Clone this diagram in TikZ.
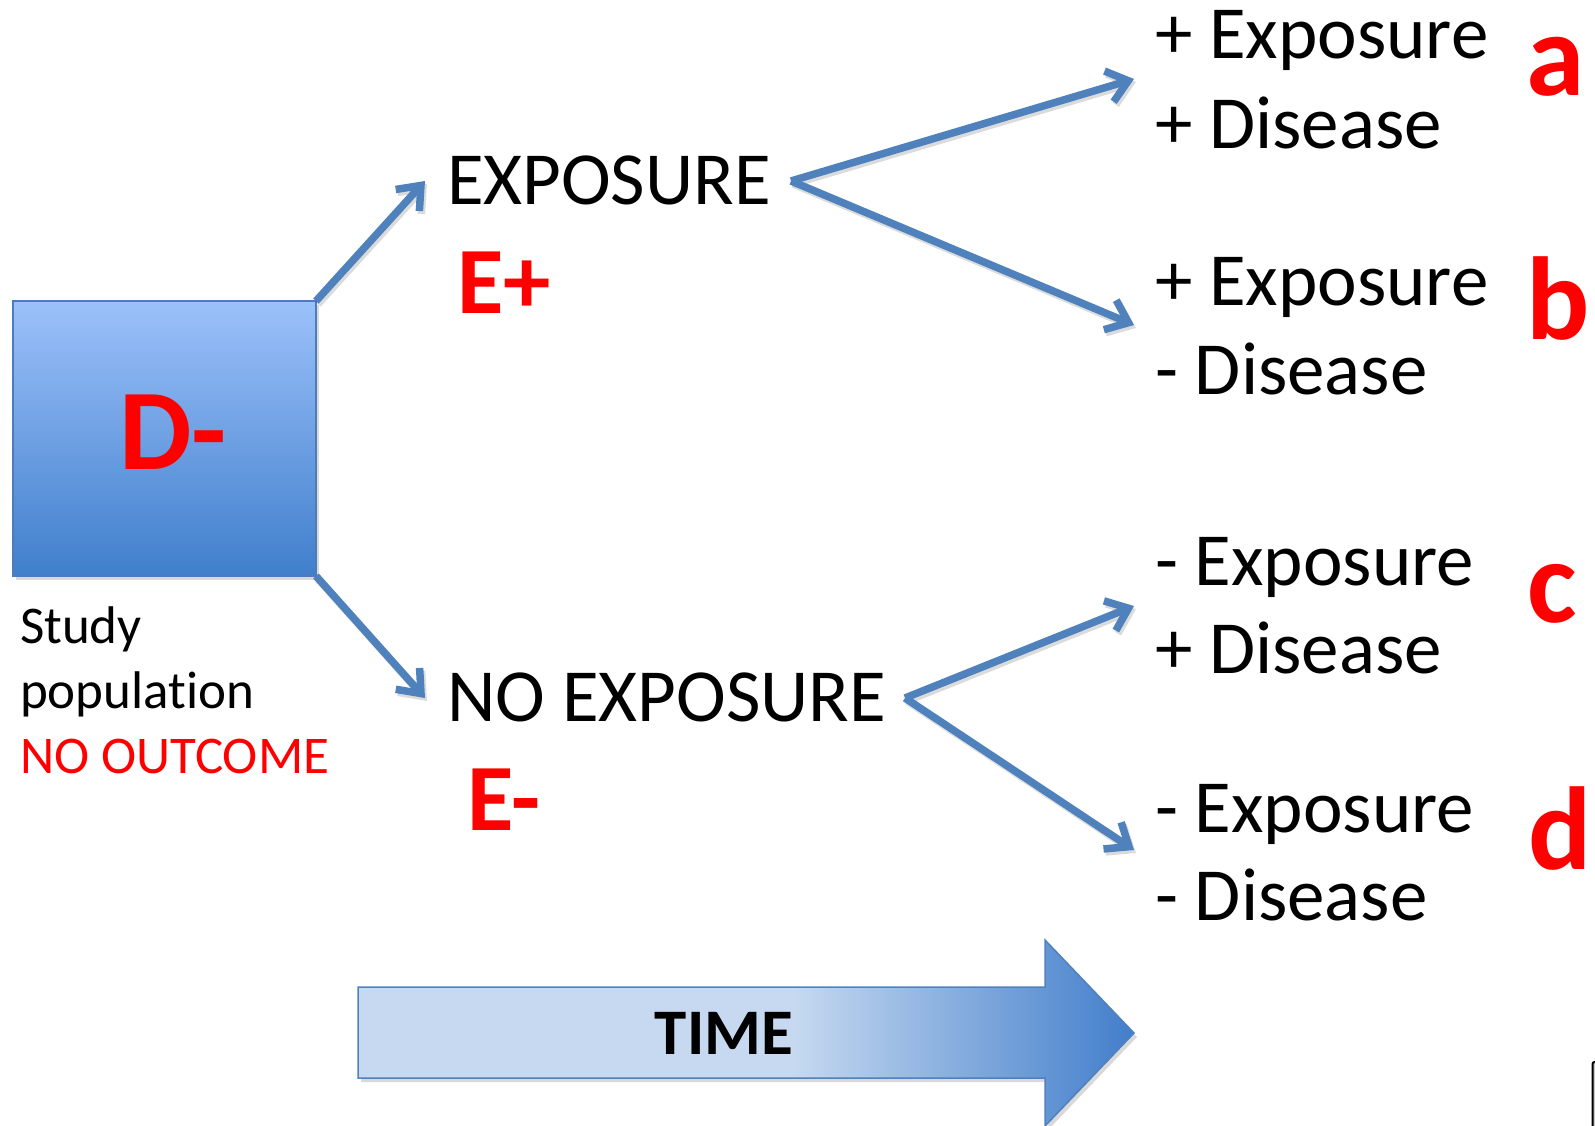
\documentclass[tikz,border=0pt]{standalone}
\usepackage{fontspec}
\setmainfont{Carlito}[Ligatures=NoCommon]
\usetikzlibrary{arrows.meta,shadows}

\definecolor{linkblue}{RGB}{79,129,189}
\definecolor{boxtop}{RGB}{156,193,250}
\definecolor{boxbottom}{RGB}{64,127,204}
\definecolor{boxedge}{RGB}{76,124,186}
\definecolor{tlight}{RGB}{198,217,240}
\definecolor{tdark}{RGB}{66,126,203}
\definecolor{tagred}{RGB}{255,0,0}

% time band: flat light blue, then darkening towards the tip
\pgfdeclarehorizontalshading{timeshade}{100bp}{color(0bp)=(tlight); color(25bp)=(tlight); color(53bp)=(tlight); color(75bp)=(tdark); color(100bp)=(tdark)}

\begin{document}
\begin{tikzpicture}[x=1pt,y=-1pt,
  every node/.style={inner sep=0pt,outer sep=0pt},
  txt/.style={anchor=base west,font=\fontsize{75}{90}\selectfont},
  small/.style={anchor=base west,font=\fontsize{53}{60}\selectfont},
  group/.style={anchor=base west,text=tagred,font=\fontsize{95}{100}\selectfont\bfseries},
  tag/.style={anchor=base west,text=tagred,font=\fontsize{118}{130}\selectfont\bfseries},
  barb/.style={-{Straight Barb[length=20pt,width=32pt]}},
  link/.style={draw=linkblue,line width=7.5pt,barb,
    preaction={draw=black,draw opacity=0.14,line width=7.5pt,barb,
      transform canvas={xshift=2pt,yshift=-3pt}}}]

\useasboundingbox (0,0) rectangle (1595,1125);

% study population box
\node[draw=boxedge,line width=1.5pt,top color=boxtop,bottom color=boxbottom,
      minimum width=303pt,minimum height=275pt,
      drop shadow={opacity=0.3,shadow xshift=3pt,shadow yshift=-4pt}]
  (pop) at (164.5,438.5) {};
\node[anchor=base west,text=tagred,font=\fontsize{115}{120}\selectfont\bfseries]
  (dminus) at (119,469) {D-};

\node[small] (study) at (20,643) {Study};
\node[small] (popl) at (20,708) {population};
\node[small,text=tagred] (noout) at (20,773) {NO OUTCOME};

% exposure groups
\node[txt] (exp) at (447,204) {EXPOSURE};
\node[group] (eplus) at (457,313) {E+};
\node[txt] (noexp) at (447,721) {NO EXPOSURE};
\node[group] (eminus) at (467,830) {E-};

% outcome cells
\node[txt] (a1) at (1155,58) {+ Exposure};
\node[txt] (a2) at (1155,148) {+ Disease};
\node[txt] (b1) at (1155,305) {+ Exposure};
\node[txt] (b2) at (1155,394) {- Disease};
\node[txt] (c1) at (1155,585) {- Exposure};
\node[txt] (c2) at (1155,673) {+ Disease};
\node[txt] (d1) at (1155,832) {- Exposure};
\node[txt] (d2) at (1155,920) {- Disease};

\node[tag] (ta) at (1526,95) {a};
\node[tag] (tb) at (1526,339) {b};
\node[tag] (tc) at (1527,622) {c};
\node[tag] (td) at (1528,869) {d};

% connector end points
\coordinate (expin) at (425,181);
\coordinate (noexpin) at (425,698);
\coordinate (expout) at (791,181);
\coordinate (noexpout) at (905,698);
\coordinate (ain) at (1134,79);
\coordinate (bin) at (1134,325);
\coordinate (cin) at (1134,606);
\coordinate (din) at (1134,850);

\draw[link] (pop.north east) -- (expin);
\draw[link] (pop.south east) -- (noexpin);
\draw[link] (expout) -- (ain);
\draw[link] (expout) -- (bin);
\draw[link] (noexpout) -- (cin);
\draw[link] (noexpout) -- (din);

% time arrow
\path[draw=linkblue,line width=1.5pt,shading=timeshade,
      drop shadow={opacity=0.3,shadow xshift=3pt,shadow yshift=-4pt}]
  (358,987) -- (1045,987) -- (1045,940) -- (1134,1033) -- (1045,1126)
  -- (1045,1078) -- (358,1078) -- cycle;
\node[anchor=base,font=\fontsize{65}{70}\selectfont\bfseries] (time) at (724,1054) {TIME};

% frame edge at the lower right corner
\draw[line width=2pt,fill=black!20,rounded corners=2pt] (1610,1062) -- (1592.5,1062) -- (1592.5,1140);

\end{tikzpicture}
\end{document}
